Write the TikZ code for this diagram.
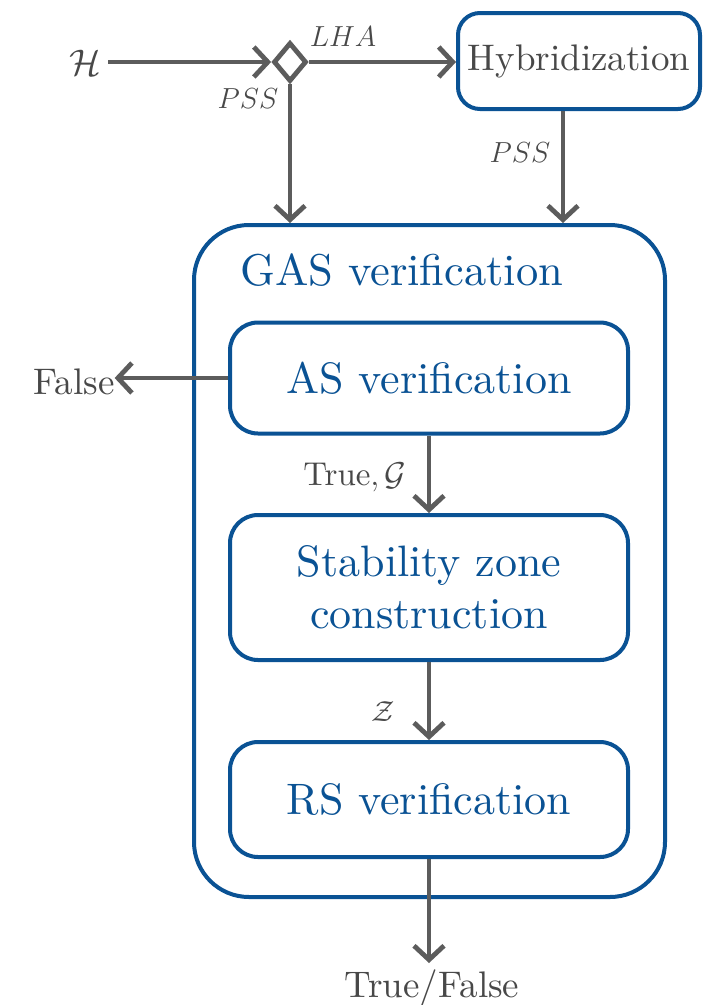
\RequirePackage{fix-cm}
\documentclass[tikz,border=0pt]{standalone}
\usepackage{fontspec}
\setmainfont{lmroman10-regular.otf}
\usetikzlibrary{shapes.geometric,arrows.meta}
\definecolor{boxblue}{RGB}{10,82,148}
\definecolor{arrowgray}{RGB}{92,92,92}
\definecolor{textgray}{RGB}{72,72,72}
\tikzset{
  blk/.style={draw=boxblue, line width=4pt, rectangle, inner sep=0pt,
    text=boxblue, align=center, font=\fontsize{44}{52}\selectfont},
  flow/.style={draw=arrowgray, line width=4.8pt,
    -{Straight Barb[length=14pt,width=30pt]}},
  lbl/.style={text=textgray, inner sep=0pt, font=\fontsize{37}{44}\selectfont},
  smalllbl/.style={text=textgray, inner sep=0pt, font=\fontsize{29}{34}\selectfont},
}
\begin{document}
\begin{tikzpicture}[x=1pt, y=-1pt]
\useasboundingbox (0,0) rectangle (703,1005);

% outer verification block
\node[blk, rounded corners=55pt, minimum width=471pt, minimum height=672pt] (gas) at (429.5,561) {};
\node[text=boxblue, anchor=base west, inner sep=0pt, font=\fontsize{44.5}{52}\selectfont] (gastitle) at (240,285) {GAS verification};

% inner stages
\node[blk, rounded corners=28pt, minimum width=398pt, minimum height=111pt] (as) at (429,378) {AS verification};
\node[blk, rounded corners=28pt, minimum width=398pt, minimum height=145pt] (stab) at (429,587.5) {Stability zone\\construction};
\node[blk, rounded corners=28pt, minimum width=398pt, minimum height=115pt] (rs) at (429,799.5) {RS verification};

% hybridization block
\node[blk, rounded corners=22pt, minimum width=242pt, minimum height=96pt, text=textgray,
      font=\fontsize{37}{44}\selectfont] (hyb) at (579,61) {Hybridization};

% input and branching point
\node[lbl] (h) at (85,63) {$\mathcal{H}$};
\node[draw=arrowgray, line width=4.8pt, diamond, inner sep=0pt, minimum width=33pt, minimum height=39pt] (dia) at (290,62) {};

% labels
\node[smalllbl] (lha) at (343,37) {$LHA$};
\node[smalllbl] (pssl) at (248,99) {$PSS$};
\node[smalllbl] (pssr) at (520,153) {$PSS$};
\node[smalllbl, font=\fontsize{33}{38}\selectfont] (tg) at (355,477) {True$,\mathcal{G}$};
\node[smalllbl] (z) at (383,712) {$\mathcal{Z}$};
\node[lbl] (false) at (74,382) {False};
\node[lbl] (tf) at (432,988) {True/False};

% connectors
\coordinate (hout) at (108,62);
\draw[flow] (hout) -- (dia.west);
\draw[flow] (dia.east) -- (dia.east -| hyb.west);
\draw[flow] (dia.south) -- (dia.south |- gas.north);
\coordinate (hybout) at ([xshift=-16pt]hyb.south);
\draw[flow] (hybout) -- (hybout |- gas.north);
\draw[flow] (as.west) -- (as.west -| false.east);
\draw[flow] (as.south) -- (stab.north);
\draw[flow] (stab.south) -- (rs.north);
\coordinate (tfin) at (429,963);
\draw[flow] (rs.south) -- (tfin);
\end{tikzpicture}
\end{document}
